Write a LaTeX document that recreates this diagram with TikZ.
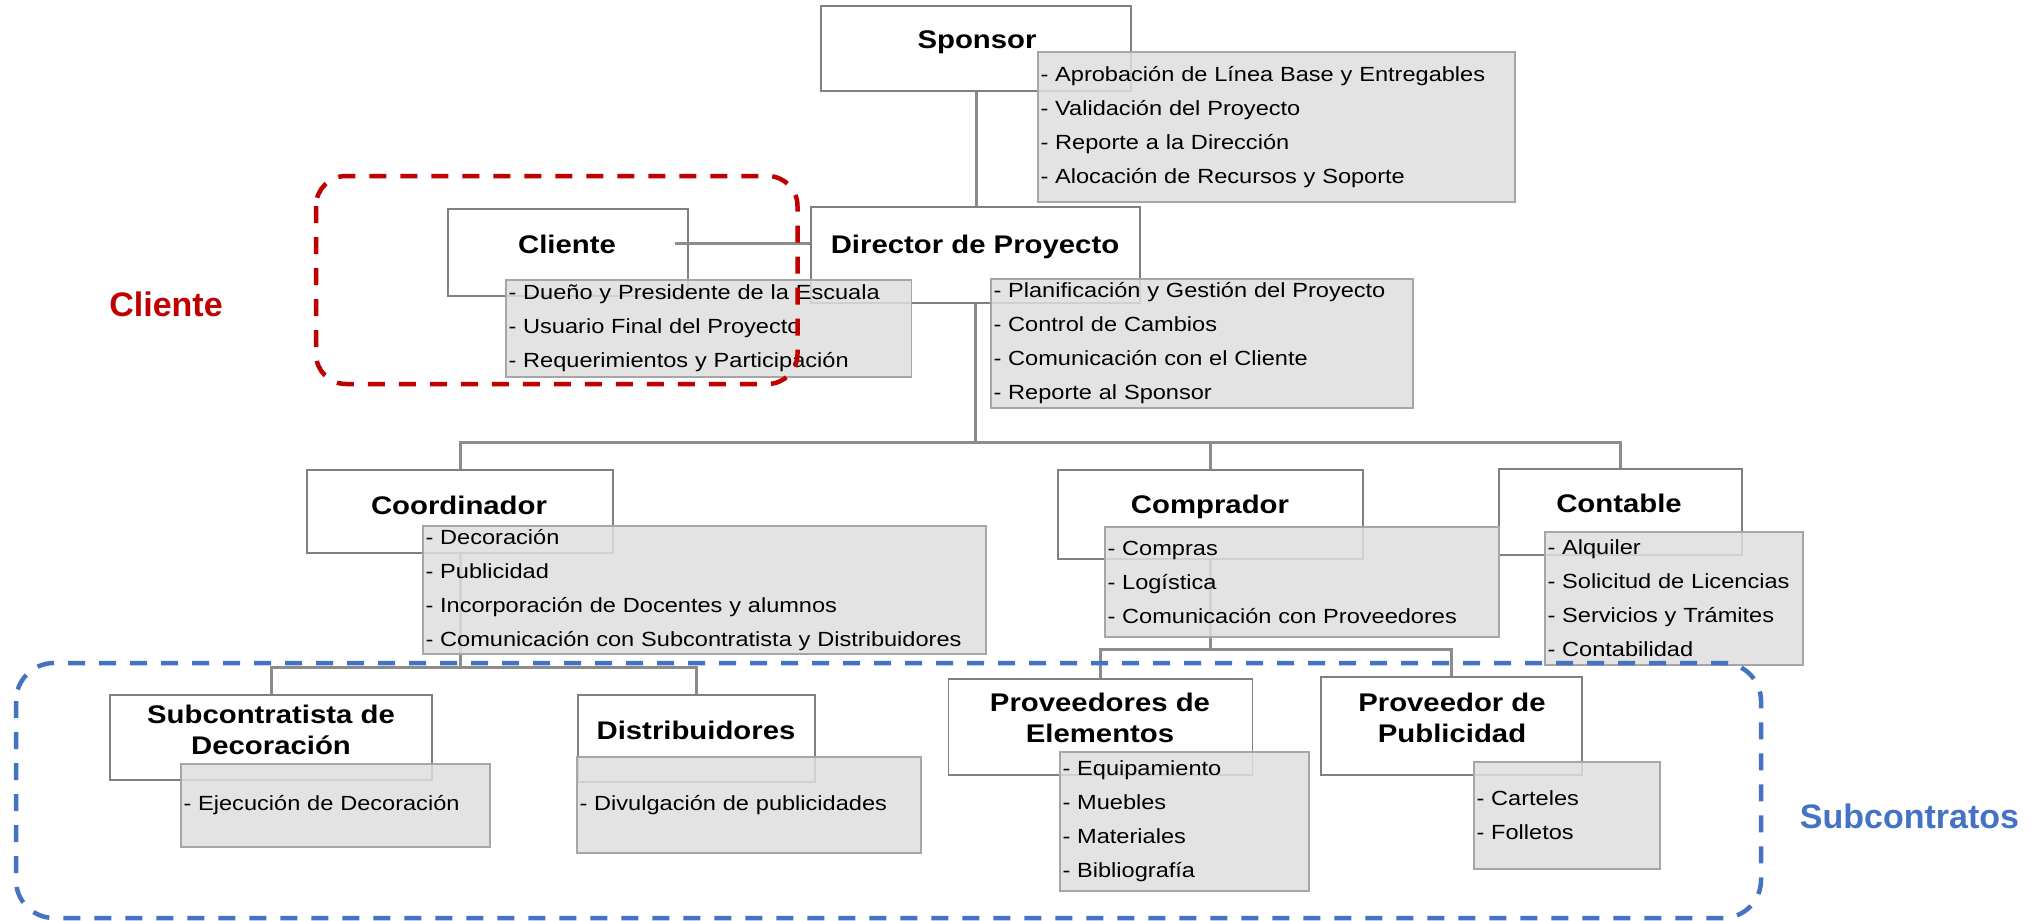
\documentclass[tikz,border=0pt]{standalone}
\usepackage{fontspec}
\newfontfamily\boxfont[FakeStretch=1.15]{Liberation Sans}
\newfontfamily\tagfont{Liberation Sans}
\usetikzlibrary{calc}
\definecolor{rolegray}{HTML}{808080}
\definecolor{dutyborder}{HTML}{A6A6A6}
\definecolor{dutyfill}{HTML}{DFDFDF}
\definecolor{linkgray}{HTML}{8C8C8C}
\definecolor{cred}{HTML}{C00000}
\definecolor{cblue}{HTML}{4472C4}
\pgfdeclarelayer{bg}
\pgfsetlayers{bg,main}
\begin{document}
\begin{tikzpicture}[x=1pt,y=-1pt,
  role/.style={draw=rolegray, line width=1.6pt, fill=white, inner sep=0pt},
  rolelabel/.style={font=\boxfont\bfseries\fontsize{25.5}{31}\selectfont, align=center, inner sep=0pt},
  duty/.style={draw=dutyborder, line width=1.6pt, fill=dutyfill, fill opacity=0.85, text opacity=1,
    inner xsep=2.5pt, inner ysep=0pt, align=left, font=\boxfont\fontsize{20.5}{34}\selectfont},
  link/.style={draw=linkgray, line width=3pt},
  frame/.style={line width=4.5pt, dash pattern=on 17pt off 14pt},
  tag/.style={font=\tagfont\bfseries\fontsize{34}{40}\selectfont, inner sep=0pt, anchor=base}]
\begin{pgfonlayer}{bg}
\fill[white] (0,0) rectangle (2035,921);
\end{pgfonlayer}
\useasboundingbox (0,0) rectangle (2035,921);

% role boxes
\node[role, minimum width=310pt, minimum height=85pt] (sponsor) at (976,48.5) {};
\node[role, minimum width=240pt, minimum height=87pt] (cliente) at (568,252.5) {};
\node[role, minimum width=329pt, minimum height=96pt] (director) at (975.5,255) {};
\node[role, minimum width=306pt, minimum height=83pt] (coord) at (460,511.5) {};
\node[role, minimum width=305pt, minimum height=89pt] (comprador) at (1210.5,514.5) {};
\node[role, minimum width=243pt, minimum height=86pt] (contable) at (1620.5,512) {};
\node[role, minimum width=322pt, minimum height=85pt] (subdeco) at (271,737.5) {};
\node[role, minimum width=237pt, minimum height=87pt] (distrib) at (696.5,738.5) {};
\node[role, minimum width=304pt, minimum height=96pt] (provelem) at (1100.5,727) {};
\node[role, minimum width=261pt, minimum height=98pt] (provpub) at (1451.5,726) {};

\node[rolelabel] (sponsor-t) at (977,42) {Sponsor};
\node[rolelabel] (cliente-t) at (567,244) {Cliente};
\node[rolelabel] (director-t) at (975,247) {Director de Proyecto};
\node[rolelabel] (coord-t) at (459,505) {Coordinador};
\node[rolelabel] (comprador-t) at (1210,507) {Comprador};
\node[rolelabel] (contable-t) at (1619,503) {Contable};
\node[rolelabel] (subdeco-t) at (271,729.5) {Subcontratista de\\Decoración};
\node[rolelabel] (distrib-t) at (696,730) {Distribuidores};
\node[rolelabel] (provelem-t) at (1100,718) {Proveedores de\\Elementos};
\node[rolelabel] (provpub-t) at (1452,718) {Proveedor de\\Publicidad};

% connectors
\coordinate (bus) at (975.5,442);
\coordinate (bus2) at (460,667);
\coordinate (bus3) at (1210.5,649);
\begin{pgfonlayer}{bg}
\draw[link] (sponsor.south) -- (sponsor.south |- director.north);
\draw[link] (director.south) -- (bus);
\draw[link] (coord.north) |- (bus) -| (contable.north);
\draw[link] (bus) -| (comprador.north);
\draw[link] (coord.south) -- (bus2);
\draw[link] (subdeco.north) |- (bus2) -| (distrib.north);
\draw[link] (comprador.south) -- (bus3);
\draw[link] (provelem.north) |- (bus3) -| (provpub.north);
\end{pgfonlayer}
\draw[link] ([xshift=-14pt,yshift=9.5pt]cliente.east) -- ([yshift=12pt]director.west);

% duty boxes
\node[duty, text width=472pt, minimum height=150pt] (sponsor-d) at (1276.5,127) {- Aprobación de Línea Base y Entregables\\- Validación del Proyecto\\- Reporte a la Dirección\\- Alocación de Recursos y Soporte};
\node[duty, text width=400.5pt, minimum height=97pt] (cliente-d) at (708.75,328.5) {- Dueño y Presidente de la Escuala\\- Usuario Final del Proyecto\\- Requerimientos y Participación};
\node[duty, text width=417pt, minimum height=129pt] (director-d) at (1202,343.5) {- Planificación y Gestión del Proyecto\\- Control de Cambios\\- Comunicación con el Cliente\\- Reporte al Sponsor};
\node[duty, text width=558pt, minimum height=128pt] (coord-d) at (704.5,590) {- Decoración\\- Publicidad\\- Incorporación de Docentes y alumnos\\- Comunicación con Subcontratista y Distribuidores};
\node[duty, text width=389pt, minimum height=110pt] (comprador-d) at (1302,582) {- Compras\\- Logística\\- Comunicación con Proveedores};
\node[duty, text width=253pt, minimum height=133pt] (contable-d) at (1674,598.5) {- Alquiler\\- Solicitud de Licencias\\- Servicios y Trámites\\- Contabilidad};
\node[duty, text width=304pt, minimum height=83pt] (subdeco-d) at (335.5,805.5) {- Ejecución de Decoración};
\node[duty, text width=339pt, minimum height=96pt] (distrib-d) at (749,805) {- Divulgación de publicidades};
\node[duty, text width=244pt, minimum height=139pt] (provelem-d) at (1184.5,821.5) {- Equipamiento\\- Muebles\\- Materiales\\- Bibliografía};
\node[duty, text width=181pt, minimum height=107pt] (provpub-d) at (1567,815.5) {- Carteles\\- Folletos};

% group frames
\draw[frame, draw=cred, rounded corners=30pt] (316,176) rectangle (797.5,384);
\draw[frame, draw=cblue, rounded corners=38pt] (16,663) rectangle (1761,918);
\node[tag, text=cred] (cliente-tag) at (166,316) {Cliente};
\node[tag, text=cblue] (sub-tag) at (1909.5,828) {Subcontratos};
\end{tikzpicture}
\end{document}
